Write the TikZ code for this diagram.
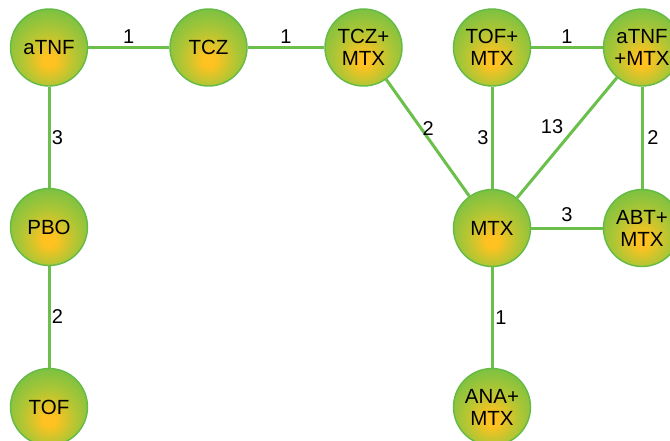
\documentclass[tikz,border=0pt]{standalone}
\usepackage{fontspec}
\setmainfont{Liberation Sans}
\definecolor{ctr}{RGB}{255,194,32}
\definecolor{mid}{RGB}{176,198,52}
\definecolor{rim}{RGB}{110,192,70}
\definecolor{bord}{RGB}{100,186,68}
\definecolor{lnk}{RGB}{106,192,74}
\pgfdeclareradialshading{ballshade}{\pgfpoint{0bp}{-9bp}}{color(0bp)=(ctr); color(4bp)=(ctr); color(18bp)=(mid); color(34bp)=(rim); color(80bp)=(rim)}
\tikzset{
  ball/.style={circle, minimum size=77pt, inner sep=0pt, draw=bord, line width=1.4pt,
    shading=ballshade, align=center, font=\fontsize{20.5}{22}\selectfont},
  link/.style={draw=lnk, line width=3pt},
  lab/.style={font=\fontsize{20}{22}\selectfont, inner sep=0pt}
}
\begin{document}
\begin{tikzpicture}[x=1pt,y=-1pt]
\useasboundingbox (0,0) rectangle (670,440);
\node[ball] (atnf) at (49,47.5) {aTNF};
\node[ball] (tcz) at (208.5,47.5) {TCZ};
\node[ball] (tczm) at (363.5,47.5) {TCZ+\\MTX};
\node[ball] (tofm) at (492,47.5) {TOF+\\MTX};
\node[ball] (atnfm) at (642,47.5) {aTNF\\+MTX};
\node[ball] (pbo) at (49,227) {PBO};
\node[ball] (mtx) at (492,228) {MTX};
\node[ball] (abtm) at (642,228) {ABT+\\MTX};
\node[ball] (tof) at (49,407) {TOF};
\node[ball] (anam) at (492,407) {ANA+\\MTX};
\draw[link] (atnf) -- node[lab, midway, yshift=11pt] {1} (tcz);
\draw[link] (tcz) -- node[lab, midway, yshift=11pt] {1} (tczm);
\draw[link] (tofm) -- node[lab, midway, yshift=11pt] {1} (atnfm);
\draw[link] (mtx) -- node[lab, midway, yshift=13pt] {3} (abtm);
\draw[link] (atnf) -- node[lab, midway, xshift=8.5pt] {3} (pbo);
\draw[link] (pbo) -- node[lab, midway, xshift=8.5pt] {2} (tof);
\draw[link] (atnfm) -- node[lab, midway, xshift=11pt] {2} (abtm);
\draw[link] (mtx) -- node[lab, midway, xshift=9pt] {1} (anam);
\draw[link] (tofm) -- node[lab, midway, xshift=-9pt] {3} (mtx);
\draw[link] (tczm) -- node[lab, midway, xshift=0.5pt, yshift=9.5pt] {2} (mtx);
\draw[link] (mtx) -- node[lab, midway, xshift=-15pt, yshift=11.5pt] {13} (atnfm);
\end{tikzpicture}
\end{document}
